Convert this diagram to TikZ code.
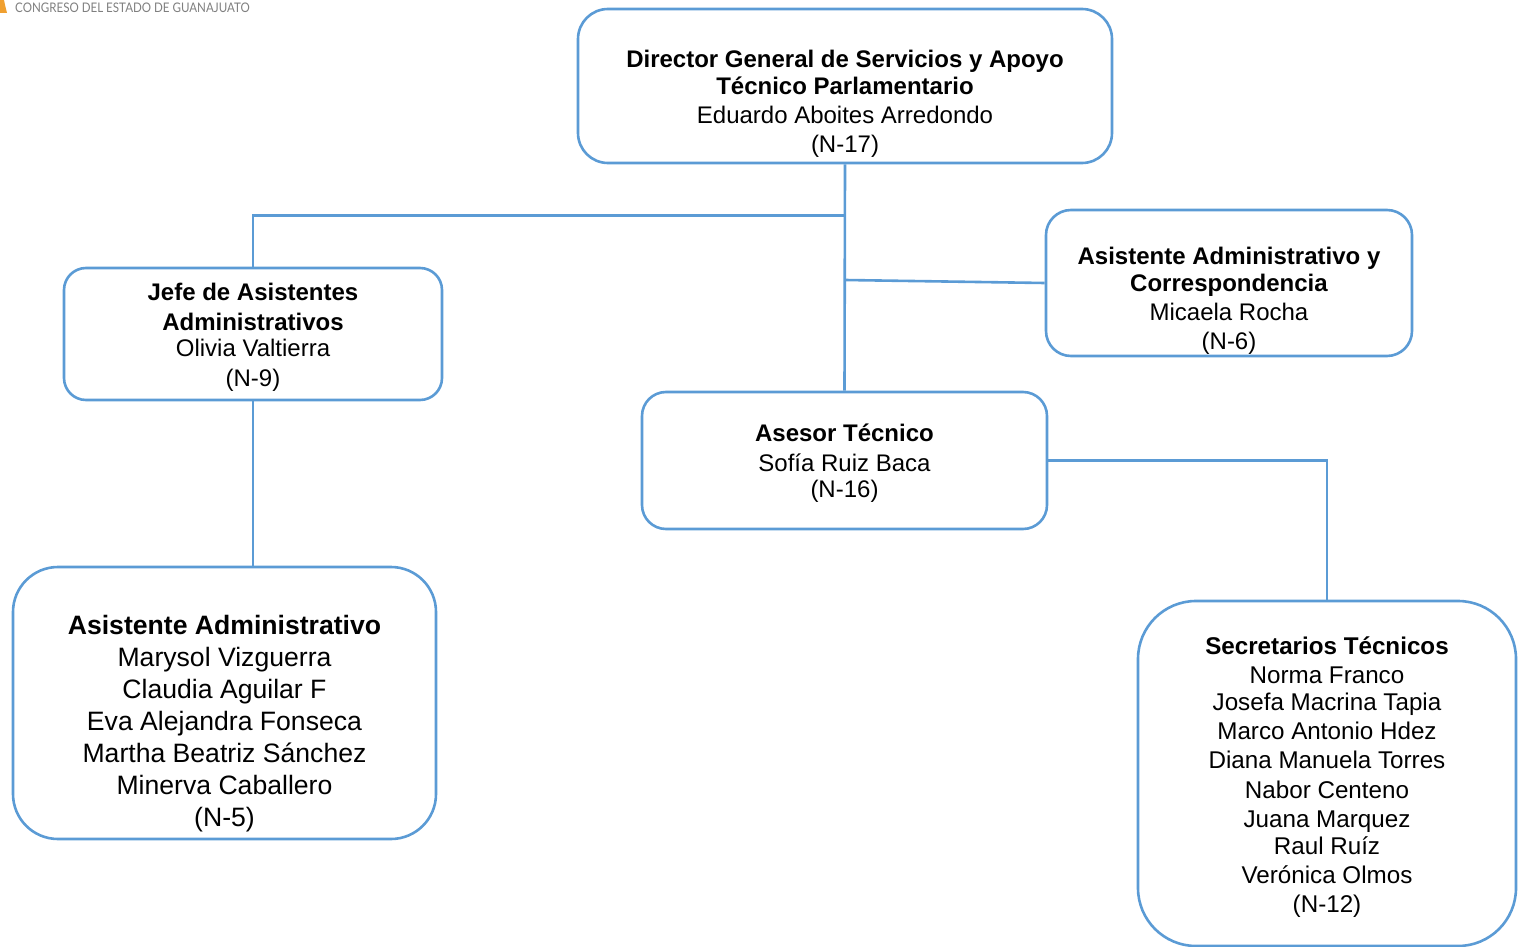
\documentclass[tikz,border=0pt]{standalone}
\usepackage{fontspec}
\setmainfont{Liberation Sans}
\newfontfamily\logofont{Lato}
\definecolor{edge}{HTML}{5B9BD5}
\definecolor{logogray}{HTML}{7F7F7F}
\definecolor{logoorange}{HTML}{F0A030}
\newcommand{\boxlines}[2]{\smash{\raisebox{#1}{\begin{tabular}[c]{@{}c@{}}#2\end{tabular}}}}
\tikzset{
  orgbox/.style={draw=edge,line width=2.6pt,fill=white,inner sep=0pt},
  wire/.style={draw=edge,line width=2.6pt},
}
\begin{document}
\begin{tikzpicture}[x=1pt,y=-1pt]
\useasboundingbox (0,0) rectangle (1519,947);
\fill[logoorange] (0,0) -- (4,0) .. controls (5,5) and (6,9) .. (7,13) -- (0,13) -- cycle;
\node[anchor=west,text=logogray,inner sep=0pt] (logo) at (15,7.5) {\logofont\fontsize{13.2}{14}\selectfont\scalebox{0.877}[1]{CONGRESO DEL ESTADO DE GUANAJUATO}};
\node[orgbox,rounded corners=30pt,minimum width=534pt,minimum height=154pt] (dir) at (845,86) {\fontsize{24}{27}\selectfont\boxlines{-25pt}{\textbf{Director General de Servicios y Apoyo}\\\textbf{Técnico Parlamentario}\\[2pt]Eduardo Aboites Arredondo\\[2pt](N-17)}};
\node[orgbox,rounded corners=22pt,minimum width=378pt,minimum height=132pt] (jefe) at (253,334) {\fontsize{24}{27}\selectfont\boxlines{-10.5pt}{\textbf{Jefe de Asistentes}\\[3pt]\textbf{Administrativos}\\[-1pt]Olivia Valtierra\\[3pt](N-9)}};
\node[orgbox,rounded corners=25pt,minimum width=366pt,minimum height=146pt] (corr) at (1229,283) {\fontsize{24}{27}\selectfont\boxlines{-25pt}{\textbf{Asistente Administrativo y}\\\textbf{Correspondencia}\\[2pt]Micaela Rocha\\[2pt](N-6)}};
\node[orgbox,rounded corners=24pt,minimum width=405pt,minimum height=137pt] (ases) at (844.5,460.5) {\fontsize{24}{27}\selectfont\boxlines{-9.5pt}{\textbf{Asesor Técnico}\\[3pt]Sofía Ruiz Baca\\[-1pt](N-16)}};
\node[orgbox,rounded corners=45pt,minimum width=423pt,minimum height=272pt] (adm) at (224.5,703) {\fontsize{26.6}{32}\selectfont\boxlines{-27pt}{\textbf{Asistente Administrativo}\\Marysol Vizguerra\\Claudia Aguilar F\\Eva Alejandra Fonseca\\Martha Beatriz Sánchez\\Minerva Caballero\\(N-5)}};
\node[orgbox,rounded corners=58pt,minimum width=378pt,minimum height=345pt] (sec) at (1327,773.5) {\fontsize{24.2}{29}\selectfont\boxlines{-10.5pt}{\textbf{Secretarios Técnicos}\\Norma Franco\\[-2pt]Josefa Macrina Tapia\\Marco Antonio Hdez\\Diana Manuela Torres\\[1pt]Nabor Centeno\\Juana Marquez\\[-2pt]Raul Ruíz\\Verónica Olmos\\(N-12)}};
\coordinate (jbranch) at (845,215.5);
\coordinate (cbranch) at (845,280);
\draw[wire] (dir.south) -- (ases.north);
\draw[wire] (jbranch) -| (jefe.north);
\draw[wire] (cbranch) -- (corr.west);
\draw[wire] (jefe.south) -- (jefe.south |- adm.north);
\draw[wire] (ases.east) -| (sec.north);
\end{tikzpicture}
\end{document}
